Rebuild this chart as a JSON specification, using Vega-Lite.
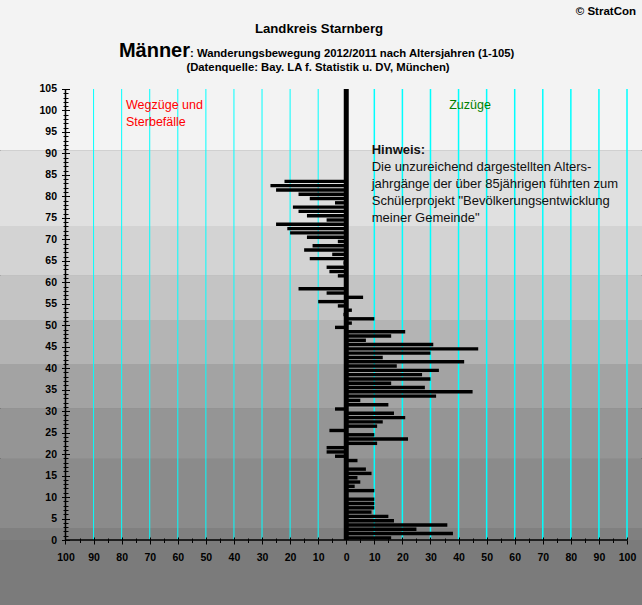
{
  "$schema": "https://vega.github.io/schema/vega-lite/v6.json",
  "width": 642,
  "height": 605,
  "autosize": {"type": "none"},
  "padding": 0,
  "background": "#7b7b7b",
  "config": {"view": {"stroke": "#000000", "strokeWidth": 2}, "font": "Liberation Sans"},
  "resolve": {"axis": {"x": "independent", "y": "independent"}},
  "datasets": {
    "ages": [
      {"age": 0, "net": 16}, {"age": 1, "net": 38}, {"age": 2, "net": 25}, {"age": 3, "net": 36}, {"age": 4, "net": 17},
      {"age": 5, "net": 15}, {"age": 6, "net": 9}, {"age": 7, "net": 10}, {"age": 8, "net": 10}, {"age": 9, "net": 10},
      {"age": 10, "net": 0}, {"age": 11, "net": 10}, {"age": 12, "net": 3}, {"age": 13, "net": 5}, {"age": 14, "net": 4},
      {"age": 15, "net": 9}, {"age": 16, "net": 7}, {"age": 17, "net": 0}, {"age": 18, "net": 4}, {"age": 19, "net": -4},
      {"age": 20, "net": -7}, {"age": 21, "net": -7}, {"age": 22, "net": 11}, {"age": 23, "net": 22}, {"age": 24, "net": 10},
      {"age": 25, "net": -6}, {"age": 26, "net": 11}, {"age": 27, "net": 13}, {"age": 28, "net": 21}, {"age": 29, "net": 17},
      {"age": 30, "net": -4}, {"age": 31, "net": 15}, {"age": 32, "net": 5}, {"age": 33, "net": 32}, {"age": 34, "net": 45},
      {"age": 35, "net": 28}, {"age": 36, "net": 16}, {"age": 37, "net": 30}, {"age": 38, "net": 27}, {"age": 39, "net": 33},
      {"age": 40, "net": 18}, {"age": 41, "net": 42}, {"age": 42, "net": 13}, {"age": 43, "net": 30}, {"age": 44, "net": 47},
      {"age": 45, "net": 31}, {"age": 46, "net": 7}, {"age": 47, "net": 16}, {"age": 48, "net": 21}, {"age": 49, "net": -4},
      {"age": 50, "net": 2}, {"age": 51, "net": 10}, {"age": 52, "net": -1}, {"age": 53, "net": 2}, {"age": 54, "net": -3},
      {"age": 55, "net": -10}, {"age": 56, "net": 6}, {"age": 57, "net": -7}, {"age": 58, "net": -17}, {"age": 59, "net": 0},
      {"age": 60, "net": 0}, {"age": 61, "net": -3}, {"age": 62, "net": -6}, {"age": 63, "net": -7}, {"age": 64, "net": -1},
      {"age": 65, "net": -13}, {"age": 66, "net": -5}, {"age": 67, "net": -15}, {"age": 68, "net": -12}, {"age": 69, "net": -3},
      {"age": 70, "net": -14}, {"age": 71, "net": -20}, {"age": 72, "net": -21}, {"age": 73, "net": -25}, {"age": 74, "net": -7},
      {"age": 75, "net": -14}, {"age": 76, "net": -17}, {"age": 77, "net": -19}, {"age": 78, "net": -4}, {"age": 79, "net": -13},
      {"age": 80, "net": -17}, {"age": 81, "net": -25}, {"age": 82, "net": -27}, {"age": 83, "net": -22}
    ],
    "bands": [
      {"lo": -16, "hi": 0, "b": "b0"},
      {"lo": 0, "hi": 2.8, "b": "b1"},
      {"lo": 2.8, "hi": 18.9, "b": "b2"},
      {"lo": 18.9, "hi": 30.7, "b": "b3"},
      {"lo": 30.7, "hi": 41, "b": "b4"},
      {"lo": 41, "hi": 51.2, "b": "b5"},
      {"lo": 51.2, "hi": 61.5, "b": "b6"},
      {"lo": 61.5, "hi": 73.1, "b": "b7"},
      {"lo": 73.1, "hi": 90.7, "b": "b8"},
      {"lo": 90.7, "hi": 127, "b": "b9"}
    ],
    "grid": [
      {"g": -90}, {"g": -80}, {"g": -70}, {"g": -60}, {"g": -50}, {"g": -40}, {"g": -30}, {"g": -20}, {"g": -10},
      {"g": 10}, {"g": 20}, {"g": 30}, {"g": 40}, {"g": 50}, {"g": 60}, {"g": 70}, {"g": 80}, {"g": 90}, {"g": 100}
    ]
  },
  "layer": [
    {
      "data": {"name": "bands"},
      "mark": {"type": "rect"},
      "encoding": {
        "y": {"field": "lo", "type": "quantitative", "scale": {"domain": [-15.13, 125.72], "nice": false, "zero": false, "padding": 0}, "axis": null},
        "y2": {"field": "hi"},
        "fill": {"field": "b", "type": "nominal", "legend": null,
          "scale": {"domain": ["b0","b1","b2","b3","b4","b5","b6","b7","b8","b9"],
                    "range": ["#7b7b7b","#808080","#8b8b8b","#959595","#a3a3a3","#b4b4b4","#c4c4c4","#d3d3d3","#e0e0e0","#f3f3f3"]}}
      }
    },
    {
      "data": {"name": "grid"},
      "mark": {"type": "rule", "color": "#00ffff"},
      "encoding": {
        "x": {"field": "g", "type": "quantitative",
          "axis": {"orient": "bottom", "offset": -65, "domain": false, "grid": false, "title": null, "zindex": 2, "labels": false,
            "values": [-95,-85,-75,-65,-55,-45,-35,-25,-15,-5,5,15,25,35,45,55,65,75,85,95],
            "tickColor": "#000000", "tickWidth": 1, "tickSize": 2.5}},
        "y": {"datum": 0, "axis": null},
        "y2": {"datum": 105},
        "strokeWidth": {"condition": {"test": "datum.g > 0", "value": 1.5}, "value": 1}
      }
    },
    {
      "data": {"name": "ages"},
      "mark": {"type": "bar", "orient": "horizontal", "size": 3.4, "yOffset": -2.15, "color": "#000000"},
      "encoding": {
        "x": {"field": "net", "type": "quantitative",
          "scale": {"domain": [-123.33, 105.34], "nice": false, "zero": false, "padding": 0},
          "axis": {"orient": "bottom", "offset": -65, "domain": false, "grid": false, "title": null, "zindex": 2,
            "values": [-100,-90,-80,-70,-60,-50,-40,-30,-20,-10,0,10,20,30,40,50,60,70,80,90,100],
            "tickColor": "#000000", "tickWidth": 1, "tickSize": 4,
            "labelExpr": "format(abs(datum.value), 'd')",
            "labelOverlap": false, "labelBound": false, "labelFlush": false,
            "labelFont": "Liberation Sans", "labelFontWeight": "bold", "labelFontSize": 10.5, "labelColor": "#000000", "labelPadding": 8}},
        "x2": {"datum": 0},
        "y": {"field": "age", "type": "quantitative",
          "scale": {"domain": [-15.13, 125.72], "nice": false, "zero": false, "padding": 0},
          "axis": {"orient": "left", "offset": -65.5, "domain": false, "grid": false, "title": null, "zindex": 2,
            "values": [0,5,10,15,20,25,30,35,40,45,50,55,60,65,70,75,80,85,90,95,100,105],
            "tickColor": "#000000", "tickWidth": 1, "tickSize": 4,
            "labelOverlap": false, "labelBound": false, "labelFlush": false,
            "labelFont": "Liberation Sans", "labelFontWeight": "bold", "labelFontSize": 10.5, "labelColor": "#000000", "labelPadding": 5}}
      }
    },
    {
      "data": {"values": [{}]},
      "mark": {"type": "rule", "color": "#000000", "strokeWidth": 5},
      "encoding": {
        "x": {"datum": 0,
          "axis": {"orient": "bottom", "offset": -65, "domain": false, "grid": false, "title": null, "zindex": 2, "labels": false,
            "values": [-100,-90,-80,-70,-60,-50,-40,-30,-20,-10,0,10,20,30,40,50,60,70,80,90,100],
            "tickColor": "#000000", "tickWidth": 1, "tickSize": -3}},
        "y": {"datum": 0,
          "axis": {"orient": "left", "offset": -65.5, "domain": false, "grid": false, "title": null, "zindex": 2, "labels": false,
            "values": [1,2,3,4,6,7,8,9,11,12,13,14,16,17,18,19,21,22,23,24,26,27,28,29,31,32,33,34,36,37,38,39,41,42,43,44,46,47,48,49,51,52,53,54,56,57,58,59,61,62,63,64,66,67,68,69,71,72,73,74,76,77,78,79,81,82,83,84,86,87,88,89,91,92,93,94,96,97,98,99,101,102,103,104],
            "tickColor": "#000000", "tickWidth": 1, "tickSize": 2.5}},
        "y2": {"datum": 105}
      }
    },
    {
      "data": {"values": [{}]},
      "mark": {"type": "rule", "color": "#000000", "strokeWidth": 1.5},
      "encoding": {
        "x": {"datum": -100,
          "axis": {"orient": "bottom", "offset": -65, "domain": false, "grid": false, "title": null, "zindex": 2, "labels": false,
            "values": [-95,-85,-75,-65,-55,-45,-35,-25,-15,-5,5,15,25,35,45,55,65,75,85,95],
            "tickColor": "#000000", "tickWidth": 1, "tickSize": -2}},
        "x2": {"datum": 100},
        "y": {"datum": 0,
          "axis": {"orient": "left", "offset": -65.5, "domain": false, "grid": false, "title": null, "zindex": 2, "labels": false,
            "values": [0,5,10,15,20,25,30,35,40,45,50,55,60,65,70,75,80,85,90,95,100,105],
            "tickColor": "#000000", "tickWidth": 1, "tickSize": -4}}
      }
    },
    {
      "data": {"values": [{}]},
      "mark": {"type": "rule", "color": "#000000", "strokeWidth": 1.5},
      "encoding": {
        "x": {"datum": -100, "axis": null},
        "y": {"datum": 0,
          "axis": {"orient": "left", "offset": -65.5, "domain": false, "grid": false, "title": null, "zindex": 2, "labels": false,
            "values": [1,2,3,4,6,7,8,9,11,12,13,14,16,17,18,19,21,22,23,24,26,27,28,29,31,32,33,34,36,37,38,39,41,42,43,44,46,47,48,49,51,52,53,54,56,57,58,59,61,62,63,64,66,67,68,69,71,72,73,74,76,77,78,79,81,82,83,84,86,87,88,89,91,92,93,94,96,97,98,99,101,102,103,104],
            "tickColor": "#000000", "tickWidth": 1, "tickSize": -2.5}},
        "y2": {"datum": 105}
      }
    },
    {
      "data": {"values": [{}]},
      "mark": {"type": "text", "text": "© StratCon", "align": "right", "baseline": "middle", "fontSize": 11.5, "fontWeight": "bold", "color": "#000000"},
      "encoding": {"x": {"datum": 103.2, "axis": null}, "y": {"datum": 122.93, "axis": null}}
    },
    {
      "data": {"values": [{}]},
      "mark": {"type": "text", "text": "Landkreis Starnberg", "align": "center", "baseline": "middle", "fontSize": 13.2, "fontWeight": "bold", "color": "#000000"},
      "encoding": {"x": {"datum": -9.7, "axis": null}, "y": {"datum": 118.98, "axis": null}}
    },
    {
      "data": {"values": [{}]},
      "mark": {"type": "text", "text": "Männer", "align": "right", "baseline": "alphabetic", "fontSize": 20, "fontWeight": "bold", "color": "#000000"},
      "encoding": {"x": {"datum": -55.65, "axis": null}, "y": {"datum": 112.4, "axis": null}}
    },
    {
      "data": {"values": [{}]},
      "mark": {"type": "text", "text": ": Wanderungsbewegung 2012/2011 nach Altersjahren (1-105)", "align": "left", "baseline": "alphabetic", "fontSize": 11.3, "fontWeight": "bold", "color": "#000000"},
      "encoding": {"x": {"datum": -55.65, "axis": null}, "y": {"datum": 112.4, "axis": null}}
    },
    {
      "data": {"values": [{}]},
      "mark": {"type": "text", "text": "(Datenquelle: Bay. LA f. Statistik u. DV, München)", "align": "center", "baseline": "middle", "fontSize": 11.3, "fontWeight": "bold", "color": "#000000"},
      "encoding": {"x": {"datum": -10.06, "axis": null}, "y": {"datum": 109.9, "axis": null}}
    },
    {
      "data": {"values": [{}]},
      "mark": {"type": "text", "text": ["Wegzüge und", "Sterbefälle"], "align": "left", "baseline": "top", "lineHeight": 17, "fontSize": 12.5, "color": "#ff0000"},
      "encoding": {"x": {"datum": -78.45, "axis": null}, "y": {"datum": 102.7, "axis": null}}
    },
    {
      "data": {"values": [{}]},
      "mark": {"type": "text", "text": "Zuzüge", "align": "center", "baseline": "middle", "fontSize": 12.5, "color": "#008000"},
      "encoding": {"x": {"datum": 44.08, "axis": null}, "y": {"datum": 101.2, "axis": null}}
    },
    {
      "data": {"values": [{}]},
      "mark": {"type": "text", "text": "Hinweis:", "align": "left", "baseline": "middle", "fontSize": 13, "fontWeight": "bold", "color": "#111111"},
      "encoding": {"x": {"datum": 9.07, "axis": null}, "y": {"datum": 90.8, "axis": null}}
    },
    {
      "data": {"values": [{}]},
      "mark": {"type": "text", "text": ["Die unzureichend dargestellten Alters-", "jahrgänge der über 85jährigen führten zum", "Schülerprojekt \"Bevölkerungsentwicklung", "meiner Gemeinde\""], "align": "left", "baseline": "middle", "lineHeight": 17, "fontSize": 13, "color": "#111111"},
      "encoding": {"x": {"datum": 9.07, "axis": null}, "y": {"datum": 86.84, "axis": null}}
    }
  ]
}
